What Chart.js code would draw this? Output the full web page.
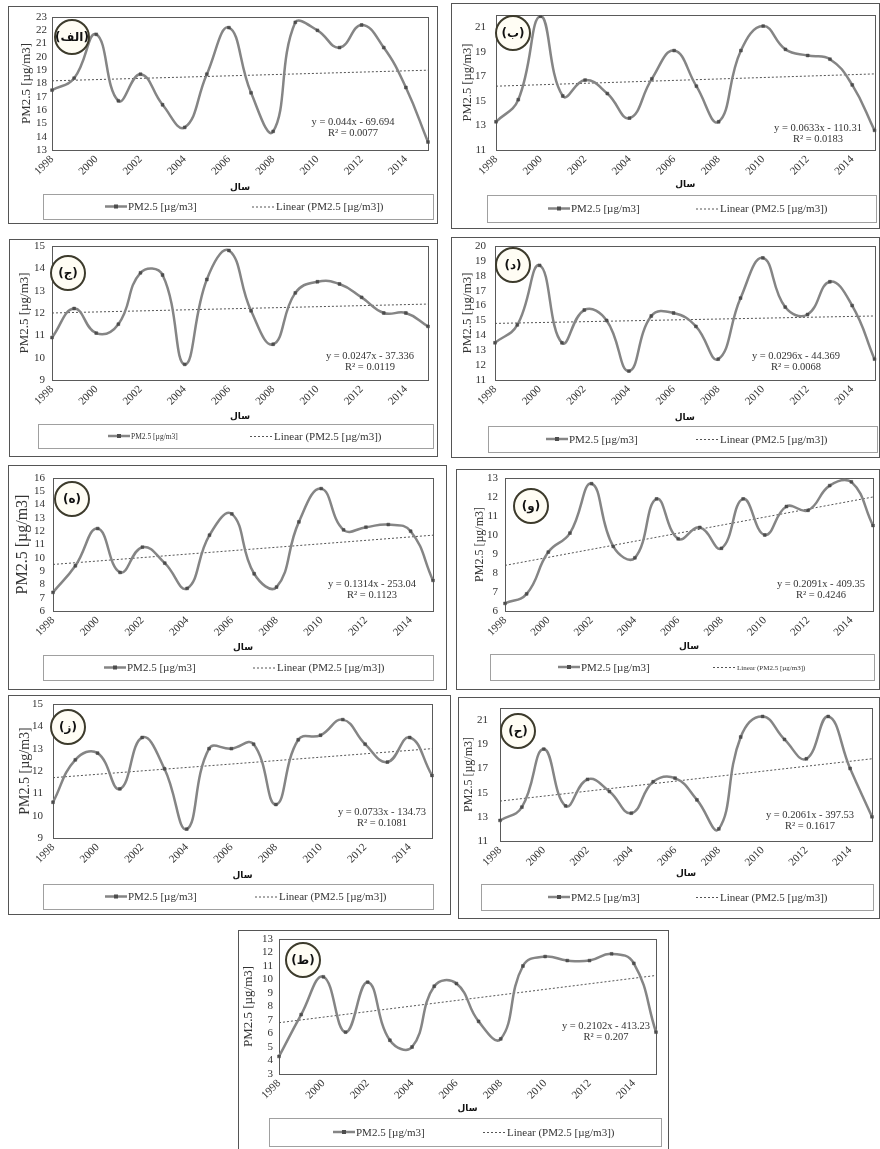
<!DOCTYPE html>
<html>
<head>
<meta charset="utf-8">
<script src="https://cdn.jsdelivr.net/npm/chart.js@4.4.1/dist/chart.umd.min.js"></script>
<style>
  html, body { margin: 0; padding: 0; background: #fff; }
  #page { position: relative; width: 880px; height: 1149px; overflow: hidden; background: #fff; }
  .panel { position: absolute; box-sizing: border-box; border: 1px solid #555; background: #fff; }
  .panel canvas { position: absolute; left: 0; top: 0; }
</style>
</head>
<body>
<div id="page"></div>
<script>
// --- Datos ---
const years = ['1998', '1999', '2000', '2001', '2002', '2003', '2004', '2005', '2006',
               '2007', '2008', '2009', '2010', '2011', '2012', '2013', '2014', '2015'];

const pmAlef = [17.5, 18.4, 21.7, 16.7, 18.7, 16.4, 14.7, 18.7, 22.2, 17.3, 14.4, 22.6, 22.0, 20.7, 22.4, 20.7, 17.7, 13.6];
const pmBe   = [13.3, 15.1, 21.9, 15.4, 16.7, 15.6, 13.6, 16.8, 19.1, 16.2, 13.3, 19.1, 21.1, 19.2, 18.7, 18.4, 16.3, 12.6];
const pmJim  = [10.9, 12.2, 11.1, 11.5, 13.8, 13.7, 9.7, 13.5, 14.8, 12.1, 10.6, 12.9, 13.4, 13.3, 12.7, 12.0, 12.0, 11.4];
const pmDal  = [13.5, 14.7, 18.7, 13.5, 15.7, 15.0, 11.6, 15.3, 15.5, 14.6, 12.4, 16.5, 19.2, 15.9, 15.4, 17.6, 16.0, 12.4];
const pmHe   = [7.4, 9.4, 12.2, 8.9, 10.8, 9.6, 7.7, 11.7, 13.3, 8.8, 7.8, 12.7, 15.2, 12.1, 12.3, 12.5, 12.0, 8.3];
const pmVav  = [6.4, 6.9, 9.1, 10.1, 12.7, 9.4, 8.8, 11.9, 9.8, 10.4, 9.3, 11.9, 10.0, 11.5, 11.3, 12.6, 12.8, 10.5];
const pmZe   = [10.6, 12.5, 12.8, 11.2, 13.5, 12.1, 9.4, 13.0, 13.0, 13.2, 10.5, 13.4, 13.6, 14.3, 13.2, 12.4, 13.5, 11.8];
const pmHa   = [12.7, 13.8, 18.6, 13.9, 16.1, 15.1, 13.3, 15.9, 16.2, 14.4, 12.0, 19.6, 21.3, 19.4, 17.8, 21.3, 17.0, 13.0];
const pmTa   = [4.3, 7.4, 10.2, 6.1, 9.8, 5.5, 5.0, 9.5, 9.7, 6.9, 5.6, 11.0, 11.7, 11.4, 11.4, 11.9, 11.2, 6.1];
const series = [pmAlef, pmBe, pmJim, pmDal, pmHe, pmVav, pmZe, pmHa, pmTa];

const panelTags = ['(الف)', '(ب)', '(ج)', '(د)', '(ه)', '(و)', '(ز)', '(ح)', '(ط)'];

// tendencia lineal: valor en 1998 y en 2015
const trendStart = [18.2, 16.2, 12.0, 14.8, 9.5, 8.4, 11.7, 14.3, 6.8];
const trendEnd   = [19.0, 17.2, 12.4, 15.3, 11.7, 12.0, 13.0, 17.8, 10.3];

const equations = ['y = 0.044x - 69.694', 'y = 0.0633x - 110.31', 'y = 0.0247x - 37.336',
                   'y = 0.0296x - 44.369', 'y = 0.1314x - 253.04', 'y = 0.2091x - 409.35',
                   'y = 0.0733x - 134.73', 'y = 0.2061x - 397.53', 'y = 0.2102x - 413.23'];
const r2Labels = ['R² = 0.0077', 'R² = 0.0183', 'R² = 0.0119', 'R² = 0.0068', 'R² = 0.1123',
                  'R² = 0.4246', 'R² = 0.1081', 'R² = 0.1617', 'R² = 0.207'];

const yMin = [13, 11, 9, 11, 6, 6, 9, 11, 3];
const yMax = [23, 22, 15, 20, 16, 13, 15, 22, 13];
const yTicks = [
  [13, 14, 15, 16, 17, 18, 19, 20, 21, 22, 23],
  [11, 13, 15, 17, 19, 21],
  [9, 10, 11, 12, 13, 14, 15],
  [11, 12, 13, 14, 15, 16, 17, 18, 19, 20],
  [6, 7, 8, 9, 10, 11, 12, 13, 14, 15, 16],
  [6, 7, 8, 9, 10, 11, 12, 13],
  [9, 10, 11, 12, 13, 14, 15],
  [11, 13, 15, 17, 19, 21],
  [3, 4, 5, 6, 7, 8, 9, 10, 11, 12, 13]
];

const seriesLabel = 'PM2.5 [µg/m3]';
const trendLabel = 'Linear (PM2.5 [µg/m3])';
const xTitle = 'سال';

// --- Posiciones de cada panel (px de la página) ---
const panels = [
  { frame: [8, 6, 437, 223],    plot: [52, 17, 428, 150],   xTitleY: 188,  legend: [43, 194, 433, 219],   s1: 105, s2: 252, f1: 11, f2: 11, tag: [72, 37],   eq: [353, 122],  yTitleX: 27,  yTitleSize: 13,   yPad: 5 },
  { frame: [451, 3, 879, 228],  plot: [496, 15, 876, 150],  xTitleY: 185,  legend: [487, 195, 876, 222],  s1: 548, s2: 696, f1: 11, f2: 11, tag: [513, 33],  eq: [818, 128],  yTitleX: 468, yTitleSize: 12.5, yPad: 10 },
  { frame: [9, 239, 437, 456],  plot: [52, 246, 428, 380],  xTitleY: 417,  legend: [38, 424, 433, 448],   s1: 108, s2: 250, f1: 7.5, f2: 11, tag: [68, 273], eq: [370, 356],  yTitleX: 25,  yTitleSize: 13,   yPad: 7 },
  { frame: [451, 237, 879, 457], plot: [495, 246, 875, 380], xTitleY: 418,  legend: [488, 426, 877, 452], s1: 546, s2: 696, f1: 11, f2: 11, tag: [513, 265], eq: [796, 356],  yTitleX: 468, yTitleSize: 13,   yPad: 9 },
  { frame: [8, 465, 446, 689],  plot: [53, 478, 433, 611],  xTitleY: 648,  legend: [43, 655, 433, 680],   s1: 104, s2: 253, f1: 11, f2: 11, tag: [72, 499],  eq: [372, 584],  yTitleX: 23,  yTitleSize: 16,   yPad: 8 },
  { frame: [456, 469, 879, 689], plot: [505, 478, 873, 611], xTitleY: 647,  legend: [490, 654, 874, 680], s1: 558, s2: 713, f1: 11, f2: 7,  tag: [531, 506], eq: [821, 584],  yTitleX: 480, yTitleSize: 12,   yPad: 7 },
  { frame: [8, 695, 450, 914],  plot: [53, 704, 432, 838],  xTitleY: 876,  legend: [43, 884, 433, 909],   s1: 105, s2: 255, f1: 11, f2: 11, tag: [68, 727],  eq: [382, 812],  yTitleX: 25,  yTitleSize: 14,   yPad: 10 },
  { frame: [458, 697, 879, 918], plot: [500, 708, 872, 841], xTitleY: 874,  legend: [481, 884, 873, 910], s1: 548, s2: 696, f1: 11, f2: 11, tag: [518, 731], eq: [810, 815],  yTitleX: 469, yTitleSize: 12,   yPad: 12 },
  { frame: [238, 930, 668, 1152], plot: [279, 939, 656, 1074], xTitleY: 1109, legend: [269, 1118, 661, 1146], s1: 333, s2: 483, f1: 11, f2: 11, tag: [303, 960], eq: [606, 1026], yTitleX: 249, yTitleSize: 13, yPad: 6 }
];

const X_AXIS_H = 48;
const X_TITLE_LH = 12;
const SERIF = "'Liberation Serif', 'Times New Roman', serif";
const ARABIC = "'DejaVu Sans', sans-serif";

Chart.defaults.font.family = SERIF;
Chart.defaults.color = '#333';

// Marco, etiqueta circular, ecuación y leyenda
function makeDecor(i) {
  const p = panels[i];
  const ox = p.frame[0] + 1, oy = p.frame[1] + 1;
  return {
    id: 'decor' + i,
    beforeDatasetsDraw(chart) {
      const a = chart.chartArea;
      const ctx = chart.ctx;
      ctx.save();
      ctx.strokeStyle = '#5a5a5a';
      ctx.lineWidth = 1;
      ctx.strokeRect(Math.round(a.left) + 0.5, Math.round(a.top) + 0.5,
                     Math.round(a.right - a.left), Math.round(a.bottom - a.top));
      ctx.restore();
    },
    afterDatasetsDraw(chart) {
      const ctx = chart.ctx;
      ctx.save();
      // circulo con letra
      const tx = p.tag[0] - ox, ty = p.tag[1] - oy;
      ctx.beginPath();
      ctx.arc(tx, ty, 17, 0, Math.PI * 2);
      ctx.fillStyle = '#fffdf4';
      ctx.fill();
      ctx.lineWidth = 2;
      ctx.strokeStyle = '#3d3b2c';
      ctx.stroke();
      ctx.fillStyle = '#111';
      ctx.font = 'bold 12px ' + ARABIC;
      ctx.textAlign = 'center';
      ctx.textBaseline = 'middle';
      ctx.fillText(panelTags[i], tx, ty + 1);

      // ecuacion
      ctx.font = '10.5px ' + SERIF;
      ctx.fillStyle = '#333';
      ctx.fillText(equations[i], p.eq[0] - ox, p.eq[1] - oy);
      ctx.fillText(r2Labels[i], p.eq[0] - ox, p.eq[1] - oy + 11);

      // leyenda
      const [lx1, ly1, lx2, ly2] = p.legend;
      ctx.strokeStyle = '#a0a0a0';
      ctx.lineWidth = 1;
      ctx.strokeRect(lx1 - ox + 0.5, ly1 - oy + 0.5, lx2 - lx1, ly2 - ly1);
      const cy = (ly1 + ly2) / 2 - oy;
      const s1 = p.s1 - ox, s2 = p.s2 - ox;
      ctx.strokeStyle = '#858585';
      ctx.lineWidth = 2.5;
      ctx.beginPath(); ctx.moveTo(s1, cy); ctx.lineTo(s1 + 22, cy); ctx.stroke();
      ctx.fillStyle = '#4d4d4d';
      ctx.fillRect(s1 + 9, cy - 2, 4, 4);
      ctx.strokeStyle = '#555';
      ctx.lineWidth = 1;
      ctx.setLineDash([2, 2]);
      ctx.beginPath(); ctx.moveTo(s2, cy + 0.5); ctx.lineTo(s2 + 22, cy + 0.5); ctx.stroke();
      ctx.setLineDash([]);
      ctx.fillStyle = '#333';
      ctx.textAlign = 'left';
      ctx.font = p.f1 + 'px ' + SERIF;
      ctx.fillText(seriesLabel, s1 + 23, cy + 1);
      ctx.font = p.f2 + 'px ' + SERIF;
      ctx.fillText(trendLabel, s2 + 24, cy + 1);
      ctx.restore();
    }
  };
}

const page = document.getElementById('page');

panels.forEach((p, i) => {
  const div = document.createElement('div');
  div.className = 'panel';
  div.style.left = p.frame[0] + 'px';
  div.style.top = p.frame[1] + 'px';
  div.style.width = (p.frame[2] - p.frame[0] + 1) + 'px';
  div.style.height = (p.frame[3] - p.frame[1] + 1) + 'px';
  const canvas = document.createElement('canvas');
  const cw = p.frame[2] - p.frame[0] - 1;
  const ch = p.frame[3] - p.frame[1] - 1;
  canvas.width = cw; canvas.height = ch;
  canvas.style.width = cw + 'px'; canvas.style.height = ch + 'px';
  div.appendChild(canvas);
  page.appendChild(div);

  const cx = p.frame[0] + 1, cy = p.frame[1] + 1;
  const yAxisW = p.plot[0] - cx;
  const titleLH = p.yTitleSize * 1.2;
  const xTitlePadBottom = Math.max(0, X_AXIS_H - X_TITLE_LH / 2 - (p.xTitleY - p.plot[3]));
  const last = years.length - 1;

  new Chart(canvas.getContext('2d'), {
    type: 'line',
    data: {
      labels: years,
      datasets: [
        {
          label: seriesLabel,
          data: series[i],
          borderColor: '#858585',
          borderWidth: 2.5,
          tension: 0.45,
          pointStyle: 'rect',
          pointRadius: 2,
          pointBackgroundColor: '#4d4d4d',
          pointBorderColor: '#4d4d4d',
          pointBorderWidth: 0.5
        },
        {
          label: trendLabel,
          data: years.map((_, k) => k === 0 ? trendStart[i] : (k === last ? trendEnd[i] : null)),
          spanGaps: true,
          borderColor: '#555',
          borderWidth: 1,
          borderDash: [2, 2],
          pointRadius: 0,
          tension: 0
        }
      ]
    },
    options: {
      responsive: false,
      animation: false,
      devicePixelRatio: 1,
      events: [],
      layout: {
        padding: {
          left: 0,
          top: p.plot[1] - cy,
          right: p.frame[2] - p.plot[2],
          bottom: p.frame[3] - p.plot[3] - X_AXIS_H
        }
      },
      plugins: { legend: { display: false }, tooltip: { enabled: false } },
      scales: {
        x: {
          offset: false,
          grid: { display: false, drawTicks: false },
          border: { display: false },
          ticks: {
            autoSkip: false,
            minRotation: 45,
            maxRotation: 45,
            padding: 3,
            color: '#333',
            font: { size: 11, family: SERIF },
            callback: function (value, index) { return index % 2 === 0 ? this.getLabelForValue(value) : ''; }
          },
          title: {
            display: true,
            text: xTitle,
            color: '#111',
            font: { size: 9, weight: 'bold', family: ARABIC, lineHeight: X_TITLE_LH / 9 },
            padding: { top: 0, bottom: xTitlePadBottom }
          },
          afterFit: (scale) => { scale.height = X_AXIS_H; scale.paddingLeft = 0; scale.paddingRight = 0; }
        },
        y: {
          min: yMin[i],
          max: yMax[i],
          grid: { display: false, drawTicks: false },
          border: { display: false },
          afterBuildTicks: (scale) => { scale.ticks = yTicks[i].map(v => ({ value: v })); },
          ticks: { autoSkip: false, padding: p.yPad, color: '#333', font: { size: 11, family: SERIF } },
          title: {
            display: true,
            text: seriesLabel,
            color: '#333',
            font: { size: p.yTitleSize, family: SERIF },
            padding: { top: Math.max(0, p.yTitleX - cx - titleLH / 2), bottom: 0 }
          },
          afterFit: (scale) => { scale.width = yAxisW; scale.paddingTop = 0; scale.paddingBottom = 0; }
        }
      }
    },
    plugins: [makeDecor(i)]
  });
});
</script>
</body>
</html>
